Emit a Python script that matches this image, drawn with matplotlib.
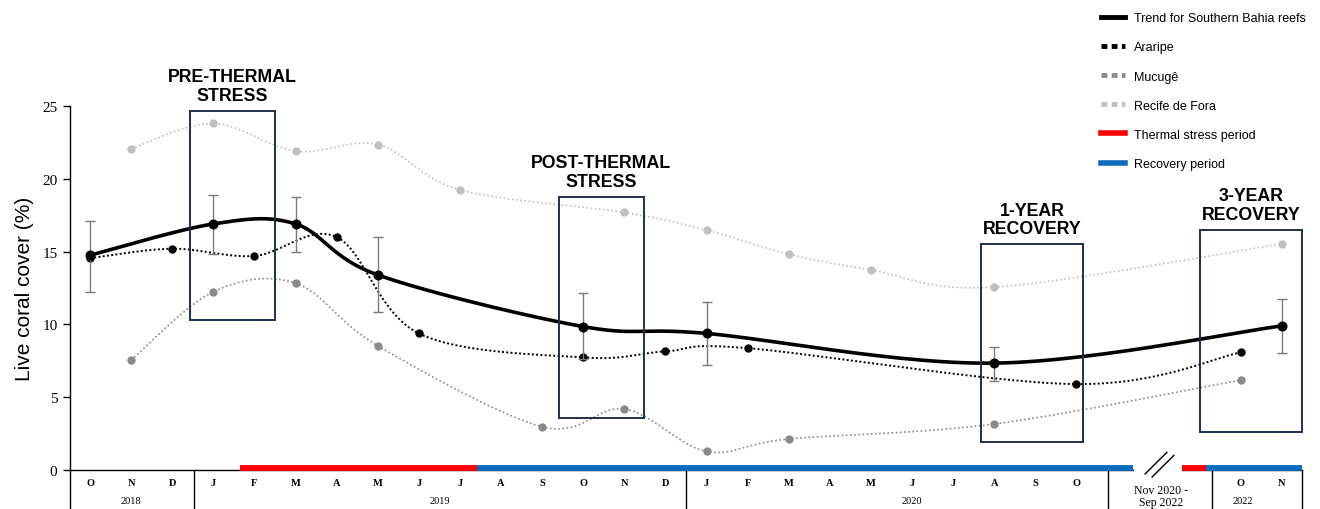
import numpy as np
import matplotlib
matplotlib.use("Agg")
import matplotlib.pyplot as plt
from matplotlib.lines import Line2D
from matplotlib.patches import Rectangle
import matplotlib.transforms as mtransforms

# Month axis (index 25-27 is the Nov 2020 - Sep 2022 gap)
month_labels = ['O', 'N', 'D', 'J', 'F', 'M', 'A', 'M', 'J', 'J', 'A', 'S', 'O', 'N', 'D',
                'J', 'F', 'M', 'A', 'M', 'J', 'J', 'A', 'S', 'O', 'O', 'N']
month_pos = list(range(25)) + [28, 29]
year_labels = ['2018', '2019', '2020', '2022']
year_pos = [1.0, 8.5, 20.0, 28.05]
gap_label = 'Nov 2020 -\nSep 2022'

# Live coral cover (%)
trend_x = [0, 3, 5, 7, 12, 15, 22, 29]
trend_y = [14.75, 16.9, 16.9, 13.4, 9.85, 9.38, 7.34, 9.9]
trend_lo = [12.2, 14.82, 14.98, 10.82, 7.6, 7.2, 6.13, 8.03]
trend_hi = [17.11, 18.9, 18.76, 15.97, 12.13, 11.51, 8.46, 11.74]

araripe_x = [0, 2, 4, 6, 8, 12, 14, 16, 24, 28]
araripe_y = [14.55, 15.2, 14.7, 16.0, 9.38, 7.73, 8.15, 8.37, 5.9, 8.08]

mucuge_x = [1, 3, 5, 7, 11, 13, 15, 17, 22, 28]
mucuge_y = [7.55, 12.24, 12.83, 8.53, 2.97, 4.19, 1.28, 2.13, 3.16, 6.18]

recife_x = [1, 3, 5, 7, 9, 13, 15, 17, 19, 22, 29]
recife_y = [22.08, 23.8, 21.9, 22.35, 19.24, 17.69, 16.47, 14.82, 13.75, 12.56, 15.53]

thermal_periods = [(3.65, 9.42), (26.56, 27.15)]
recovery_periods = [(9.42, 25.37), (27.15, 29.48)]

# highlighted windows: label, x0, x1, y0, y1
windows = [('PRE-THERMAL\nSTRESS', 2.43, 4.50, 10.32, 24.66),
           ('POST-THERMAL\nSTRESS', 11.40, 13.48, 3.57, 18.76),
           ('1-YEAR\nRECOVERY', 21.68, 24.16, 1.90, 15.49),
           ('3-YEAR\nRECOVERY', 27.01, 29.48, 2.63, 16.47)]


def smooth(x, y, n=30):
    """courbe lissee type Excel (Bezier / Catmull-Rom) passant par les points"""
    p = np.column_stack([x, y]).astype(float)
    ext = np.vstack([p[0], p, p[-1]])
    t = np.linspace(0, 1, n)[:, None]
    out = []
    for i in range(len(p) - 1):
        p0, p1, p2, p3 = ext[i], ext[i + 1], ext[i + 2], ext[i + 3]
        c1 = p1 + (p2 - p0) / 6
        c2 = p2 - (p3 - p1) / 6
        seg = (1 - t) ** 3 * p1 + 3 * (1 - t) ** 2 * t * c1 + 3 * (1 - t) * t ** 2 * c2 + t ** 3 * p2
        out.append(seg)
    out = np.vstack(out)
    return out[:, 0], out[:, 1]


sans = 'Liberation Sans'
serif = 'Liberation Serif'

fig = plt.figure(figsize=(13.2, 5.1), dpi=100)
ax = fig.add_axes([70 / 1320, 1 - 471 / 510, (1301.7 - 70) / 1320, (471 - 107) / 510])
ax.set_xlim(-0.487, 29.48)
ax.set_ylim(0, 25)

# series
col_muc = '#8a8a8a'
col_rec = '#c0c0c0'
sx, sy = smooth(recife_x, recife_y)
ax.plot(sx, sy, color=col_rec, lw=1.2, ls=(0, (1, 1.5)), zorder=2)
ax.plot(recife_x, recife_y, 'o', color=col_rec, ms=5, zorder=3)
sx, sy = smooth(mucuge_x, mucuge_y)
ax.plot(sx, sy, color=col_muc, lw=1.2, ls=(0, (1, 1.5)), zorder=2)
ax.plot(mucuge_x, mucuge_y, 'o', color=col_muc, ms=5, zorder=3)
sx, sy = smooth(araripe_x, araripe_y)
ax.plot(sx, sy, color='black', lw=1.4, ls=(0, (1, 1.2)), zorder=4)
ax.plot(araripe_x, araripe_y, 'o', color='black', ms=5, zorder=5)

err = [np.array(trend_y) - np.array(trend_lo), np.array(trend_hi) - np.array(trend_y)]
ax.errorbar(trend_x, trend_y, yerr=err, fmt='none', ecolor='#7a7a7a', elinewidth=1,
            capsize=3.5, capthick=1, zorder=5)
sx, sy = smooth(trend_x, trend_y)
ax.plot(sx, sy, color='black', lw=2.6, zorder=6, solid_capstyle='round')
ax.plot(trend_x, trend_y, 'o', color='black', ms=6.2, zorder=7)

# boxes + titles
for lab, x0, x1, y0, y1 in windows:
    ax.add_patch(Rectangle((x0, y0), x1 - x0, y1 - y0, fill=False, edgecolor='#1f2f4f',
                           lw=1.4, zorder=8, clip_on=False))
    ax.text((x0 + x1) / 2, y1 + 0.5, lab, ha='center', va='bottom', fontsize=12.8,
            fontweight='bold', family=sans, linespacing=1.12, clip_on=False)

# axes style
for s in ['top', 'right', 'bottom']:
    ax.spines[s].set_visible(False)
ax.spines['left'].set_linewidth(1)
ax.set_yticks([0, 5, 10, 15, 20, 25])
ax.tick_params(axis='y', direction='out', length=5, width=1, pad=4, labelsize=11)
for lbl in ax.get_yticklabels():
    lbl.set_family(serif)
ax.set_xticks([])
ax.set_ylabel('Live coral cover (%)', fontsize=15, family=sans, labelpad=6)

# x axis line, periods, gap mark
ax.plot([-0.487, 25.37], [0, 0], color='black', lw=1, clip_on=False, zorder=9)
ax.plot([26.56, 29.48], [0, 0], color='black', lw=1, clip_on=False, zorder=9)
for a, b in thermal_periods:
    ax.plot([a, b], [0.15, 0.15], color='#ff0000', lw=4.2, solid_capstyle='butt',
            clip_on=False, zorder=10)
for a, b in recovery_periods:
    ax.plot([a, b], [0.15, 0.15], color='#0a6cbd', lw=4.2, solid_capstyle='butt',
            clip_on=False, zorder=10)
ax.plot([25.67, 26.2], [-0.27, 1.21], color='black', lw=1, clip_on=False)
ax.plot([25.84, 26.37], [-0.48, 1.0], color='black', lw=1, clip_on=False)

trans = mtransforms.blended_transform_factory(ax.transData, ax.transAxes)
for xd in [-0.487, 2.53, 14.5, 24.77, 27.29, 29.48]:
    ax.plot([xd, xd], [0, -0.11], color='black', lw=1, transform=trans, clip_on=False)
for p, m in zip(month_pos, month_labels):
    ax.text(p, -0.033, m, transform=trans, ha='center', va='center', fontsize=7.5,
            family=serif, fontweight='bold')
for p, yv in zip(year_pos, year_labels):
    ax.text(p, -0.084, yv, transform=trans, ha='center', va='center', fontsize=7.5,
            family=serif)
ax.text(26.05, -0.071, gap_label, transform=trans, ha='center', va='center', fontsize=8.5,
        family=serif, linespacing=0.95)

# legend
handles = [Line2D([], [], color='black', lw=3.5),
           Line2D([], [], color='black', lw=3.5, ls=(0, (1.2, 0.9)), dash_capstyle='butt'),
           Line2D([], [], color=col_muc, lw=3.5, ls=(0, (1.2, 0.9)), dash_capstyle='butt'),
           Line2D([], [], color=col_rec, lw=3.5, ls=(0, (1.2, 0.9)), dash_capstyle='butt'),
           Line2D([], [], color='#ff0000', lw=4),
           Line2D([], [], color='#0a6cbd', lw=4)]
labels = ['Trend for Southern Bahia reefs', 'Araripe', 'Mucugê', 'Recife de Fora',
          'Thermal stress period', 'Recovery period']
fig.legend(handles, labels, loc='upper left', bbox_to_anchor=(1095 / 1320, 1 - 7 / 510),
           frameon=False, prop={'family': sans, 'size': 9}, borderpad=0,
           handlelength=1.9, handletextpad=0.75, labelspacing=1.37)

plt.savefig('out.png', dpi=100)
